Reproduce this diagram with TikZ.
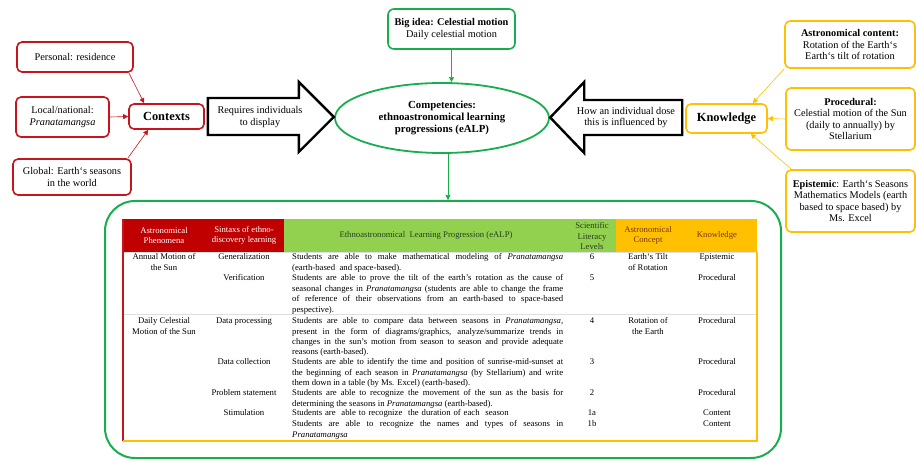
\documentclass[tikz,border=0pt]{standalone}
\usepackage{fontspec}
\setmainfont{Liberation Serif}
\usetikzlibrary{arrows.meta}
\usetikzlibrary{shapes.geometric}

\hyphenpenalty=10000
\exhyphenpenalty=10000

\definecolor{ctxred}{RGB}{200,20,28}
\definecolor{ideagreen}{RGB}{24,174,78}
\definecolor{knoworange}{RGB}{255,192,0}
\definecolor{hdred}{RGB}{192,0,0}
\definecolor{hdgreen}{RGB}{146,208,80}
\definecolor{hdbrown}{RGB}{120,56,0}
\definecolor{hddark}{RGB}{40,64,28}

\tikzset{
    boxtext/.style={font=\fontsize{10.3}{11.5}\selectfont, align=center, inner sep=2pt},
    ctxbox/.style={boxtext, draw=ctxred, line width=1.6pt, rounded corners=5pt},
    knowbox/.style={boxtext, draw=knoworange, line width=1.6pt, rounded corners=5pt},
    ideabox/.style={boxtext, draw=ideagreen, line width=1.6pt, rounded corners=6pt},
    ctxlink/.style={ctxred, line width=0.6pt, -{Triangle[length=5pt, width=5pt]}},
    knowlink/.style={knoworange, line width=0.6pt, -{Triangle[length=5pt, width=5pt]}},
    idealink/.style={ideagreen, line width=0.6pt, -{Triangle[length=5pt, width=5pt]}},
    blockarrow/.style={draw=black, line width=2.4pt, fill=white, line join=miter},
    hdcell/.style={font=\fontsize{8.7}{10.4}\selectfont, align=center, inner sep=0pt},
    cell/.style={font=\fontsize{8.7}{10.4}\selectfont, align=center, inner sep=0pt, anchor=north},
    ealp/.style={font=\fontsize{8.7}{10.4}\selectfont, align=justify, inner sep=0pt, anchor=north west, text width=271pt}
}

\begin{document}
\begin{tikzpicture}[x=1pt, y=-1pt]
    \useasboundingbox (0, 0) rectangle (916, 462);

    \node[ctxbox, minimum width=116pt, minimum height=30pt] (personal) at (75, 57) {Personal: residence};
    \node[ctxbox, minimum width=93pt, minimum height=40pt] (local) at (62.5, 117) {Local/national:\\\textit{Pranatamangsa}};
    \node[ctxbox, minimum width=118pt, minimum height=36pt] (global) at (72, 177) {Global: Earth`s seasons\\in the world};
    \node[ctxbox, minimum width=75pt, minimum height=25pt, font=\fontsize{12.4}{14}\selectfont\bfseries] (contexts) at (166.5, 116.5) {Contexts};

    \draw[ctxlink] ([xshift=-5pt]personal.south east) -- ([xshift=16pt]contexts.north west);
    \draw[ctxlink] (local.east) -- (contexts.west);
    \draw[ctxlink] ([xshift=-4pt]global.north east) -- ([xshift=20pt]contexts.south west);

    \node[ideabox, minimum width=127pt, minimum height=40pt] (bigidea) at (451.5, 29) {\textbf{Big idea: Celestial motion}\\Daily celestial motion};
    \node[ellipse, draw=ideagreen, line width=1.8pt, minimum width=214pt, minimum height=70pt, align=center, inner sep=1pt, font=\fontsize{10.8}{12}\selectfont\bfseries] (competencies) at (442, 118) {Competencies:\\ethnoastronomical learning\\progressions (eALP)};

    \node[knowbox, minimum width=81pt, minimum height=29pt, font=\fontsize{12.4}{14}\selectfont\bfseries] (knowledge) at (726.5, 118.5) {Knowledge};
    \node[knowbox, minimum width=130pt, minimum height=47pt] (astro) at (850, 44.5) {\textbf{Astronomical content:}\\Rotation of the Earth`s\\Earth`s tilt of rotation};
    \node[knowbox, minimum width=129pt, minimum height=62pt] (procedural) at (850.5, 119) {\textbf{Procedural:}\\Celestial motion of the Sun\\(daily to annually) by\\Stellarium};
    \node[knowbox, minimum width=129pt, minimum height=62pt] (epistemic) at (850.5, 201) {\textbf{Epistemic}: Earth`s Seasons\\Mathematics Models (earth\\based to space based) by\\Ms. Excel};

    \draw[knowlink] (astro.south west) -- ([xshift=-15pt]knowledge.north east);
    \draw[knowlink] (procedural.west) -- (knowledge.east);
    \draw[knowlink] ([xshift=6pt]epistemic.north west) -- ([xshift=-17pt]knowledge.south east);

    \draw[blockarrow] (contexts.east) ++(3, -18.5) -- ++(91, 0) -- ++(0, -16) -- ++(35, 35) -- ++(-35, 35) -- ++(0, -17) -- ++(-91, 0) -- cycle;
    \node[boxtext] (display) at (260, 117) {Requires individuals\\to display};
    \draw[blockarrow] (knowledge.west) ++(-3, -18.5) -- ++(-98, 0) -- ++(0, -18) -- ++(-34, 35.5) -- ++(34, 35.5) -- ++(0, -18) -- ++(98, 0) -- cycle;
    \node[boxtext] (influence) at (626, 117.5) {How an individual dose\\this is influenced by};

    \node[draw=ideagreen, line width=2pt, rounded corners=30pt, minimum width=676pt, minimum height=257pt] (frame) at (443, 329.5) {};
    \draw[idealink] (bigidea.south) -- (competencies.north -| bigidea.south);
    \draw[idealink] ([xshift=6pt]competencies.south) -- ([xshift=6pt]competencies.south |- frame.north);

    \fill[hdred] (123, 219) rectangle (284, 252);
    \fill[hdgreen] (284, 219) rectangle (616, 252);
    \fill[knoworange] (616, 219) rectangle (757, 252);
    \draw[gray!25, line width=0.6pt] (123, 252.5) -- (757, 252.5);
    \draw[gray!25, line width=0.8pt] (123, 314) -- (757, 314);
    \draw[ctxred, line width=1.2pt] (123, 219) -- (123, 441);
    \draw[knoworange, line width=1.2pt] (123, 441) -- (757, 441) -- (757, 252);

    \node[hdcell, text=white] (hphen) at (164, 235.5) {Astronomical\\Phenomena};
    \node[hdcell, text=white] (hsyn) at (244, 235.5) {Sintaxs of ethno-\\discovery learning};
    \node[hdcell, text=hddark] (healp) at (426, 235.5) {Ethnoastronomical~ Learning Progression (eALP)};
    \node[hdcell, text=hddark] (hlit) at (592, 236) {Scientific\\Literacy\\Levels};
    \node[hdcell, text=hdbrown] (hcon) at (648, 235.5) {Astronomical\\Concept};
    \node[hdcell, text=hdbrown] (hknow) at (717, 235.5) {Knowledge};

    \node[cell] (phen1) at (164, 253.5) {Annual Motion of\\the Sun};
    \node[cell] (syn6) at (244, 253.5) {Generalization};
    \node[ealp] (alp6) at (292, 253.5) {Students are able to make mathematical modeling of \textit{Pranatamangsa}\linebreak (earth-based~ and space-based).};
    \node[cell] (lit6) at (592, 253.5) {6};
    \node[cell] (con1) at (648, 253.5) {Earth`s Tilt\\of Rotation};
    \node[cell] (know6) at (717, 253.5) {Epistemic};

    \node[cell] (syn5) at (244, 274.5) {Verification};
    \node[ealp] (alp5) at (292, 274.5) {Students are able to prove the tilt of the earth's rotation as the cause of\linebreak seasonal changes in \textit{Pranatamangsa} (students are able to change the frame\linebreak of reference of their observations from an earth-based to space-based\linebreak pespective).};
    \node[cell] (lit5) at (592, 274.5) {5};
    \node[cell] (know5) at (717, 274.5) {Procedural};

    \node[cell] (phen2) at (164, 317.5) {Daily Celestial\\Motion of the Sun};
    \node[cell] (syn4) at (244, 317.5) {Data processing};
    \node[ealp] (alp4) at (292, 317.5) {Students are able to compare data between seasons in \textit{Pranatamangsa},\linebreak present in the form of diagrams/graphics, analyze/summarize trends in\linebreak changes in the sun's motion from season to season and provide adequate\linebreak reasons (earth-based).};
    \node[cell] (lit4) at (592, 317.5) {4};
    \node[cell] (con2) at (648, 317.5) {Rotation of\\the Earth};
    \node[cell] (know4) at (717, 317.5) {Procedural};

    \node[cell] (syn3) at (244, 358.5) {Data collection};
    \node[ealp] (alp3) at (292, 358.5) {Students are able to identify the time and position of sunrise-mid-sunset at\linebreak the beginning of each season in \textit{Pranatamangsa} (by Stellarium) and write\linebreak them down in a table (by Ms. Excel) (earth-based).};
    \node[cell] (lit3) at (592, 358.5) {3};
    \node[cell] (know3) at (717, 358.5) {Procedural};

    \node[cell] (syn2) at (244, 389.5) {Problem statement};
    \node[ealp] (alp2) at (292, 389.5) {Students are able to recognize the movement of the sun as the basis for\linebreak determining the seasons in \textit{Pranatamangsa} (earth-based).};
    \node[cell] (lit2) at (592, 389.5) {2};
    \node[cell] (know2) at (717, 389.5) {Procedural};

    \node[cell] (syn1) at (244, 409.5) {Stimulation};
    \node[ealp, align=left] (alp1a) at (292, 409.5) {Students are~ able to recognize~ the duration of each~ season};
    \node[cell] (lit1a) at (592, 409.5) {1a};
    \node[cell] (know1a) at (717, 409.5) {Content};

    \node[ealp] (alp1b) at (292, 420.5) {Students are able to recognize the names and types of seasons in\linebreak \textit{Pranatamangsa}};
    \node[cell] (lit1b) at (592, 420.5) {1b};
    \node[cell] (know1b) at (717, 420.5) {Content};
\end{tikzpicture}
\end{document}
